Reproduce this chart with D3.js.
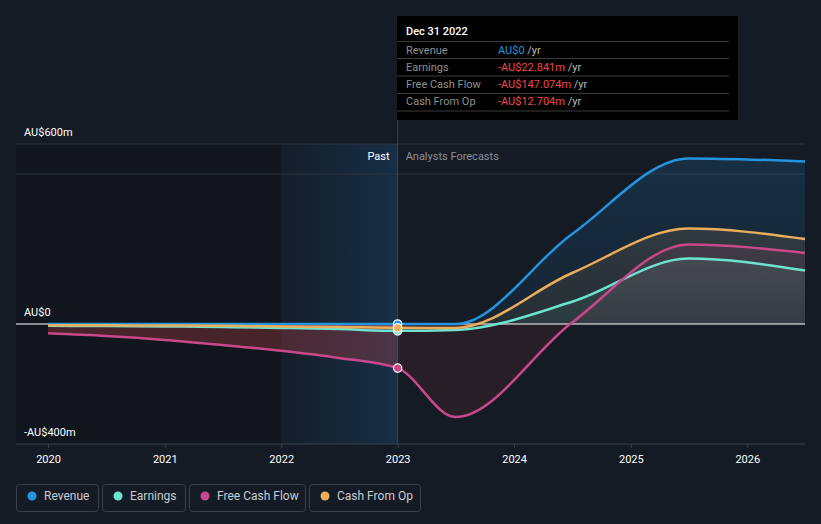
<!DOCTYPE html>
<html><head><meta charset="utf-8">
<script src="https://cdn.jsdelivr.net/npm/d3@7"></script>
<style>html,body{margin:0;padding:0;background:#151b25;} svg{display:block;font-family:Roboto,"Noto Sans",sans-serif;}</style>
</head><body><svg id="c" width="821" height="524"></svg>
<script>
// ---- data (AU$ millions) ----
const dates = ["2020-01-01","2020-07-01","2021-01-01","2021-07-01","2022-01-01","2022-07-01","2023-01-01","2023-07-01","2024-07-01","2025-07-01","2026-07-01"];
const revenue      = [0, 0, 0, 0, 0, 0, 0, 0, 300, 552, 542];
const earnings     = [-6, -7, -8, -10, -13, -17, -22.841, -20, 74, 218, 178];
const freeCashFlow = [-31, -40, -53, -70, -89, -113, -147.074, -310, 5, 265, 237];
const cashFromOp   = [-4, -4.5, -5, -6, -8, -10, -12.704, -13, 170, 318, 283];
const seriesNames  = ["Revenue", "Earnings", "Free Cash Flow", "Cash From Op"];
const seriesColors = ["#2394df", "#6ce3cf", "#c9488a", "#e9ad5c"];
const yearTicks    = [2020, 2021, 2022, 2023, 2024, 2025, 2026];
const yTickValues  = [600, 0, -400];
const yTickLabels  = ["AU$600m", "AU$0", "-AU$400m"];
const tooltipDate  = "Dec 31 2022";
const tooltipValues = ["AU$0", "-AU$22.841m", "-AU$147.074m", "-AU$12.704m"];
const pastStart = "2022-01-01", nowDate = "2023-01-01";

const svg = d3.select("#c");
const parse = d3.timeParse("%Y-%m-%d");
const X0 = 16, X1 = 805;
const x = d3.scaleTime().domain([parse("2020-01-01"), parse("2026-07-01")]).range([48, 805]);
const y = d3.scaleLinear().domain([-400, 600]).range([444, 144]);
const allSeries = [revenue, earnings, freeCashFlow, cashFromOp].map((vals, i) => ({
  name: seriesNames[i], color: seriesColors[i],
  pts: vals.map((v, j) => ({d: parse(dates[j]), v}))
}));

const defs = svg.append("defs");
const xNow = x(parse(nowDate)), xPast = x(parse(pastStart));
const y0 = y(0);

// background regions
svg.append("rect").attr("x", X0).attr("y", y(600)).attr("width", xPast - X0).attr("height", y(-400) - y(600)).attr("fill", "rgba(0,0,0,0.18)");
const bg = defs.append("linearGradient").attr("id", "pastg").attr("x1", 0).attr("x2", 1).attr("y1", 0).attr("y2", 0);
bg.append("stop").attr("offset", 0).attr("stop-color", "#2196f3").attr("stop-opacity", 0.02);
bg.append("stop").attr("offset", 1).attr("stop-color", "#2196f3").attr("stop-opacity", 0.16);
svg.append("rect").attr("x", xPast).attr("y", y(600)).attr("width", xNow - xPast).attr("height", y(-400) - y(600)).attr("fill", "url(#pastg)");

// gridlines
[600, 500].forEach(v => svg.append("line").attr("x1", X0).attr("x2", X1).attr("y1", y(v)).attr("y2", y(v)).attr("stroke", "#2e343e").attr("stroke-width", 1));

// clips
defs.append("clipPath").attr("id", "pos").append("rect").attr("x", 0).attr("y", 0).attr("width", 821).attr("height", y0);
defs.append("clipPath").attr("id", "negPast").append("rect").attr("x", 0).attr("y", y0).attr("width", xNow).attr("height", 300);
defs.append("clipPath").attr("id", "negFut").append("rect").attr("x", xNow).attr("y", y0).attr("width", 821).attr("height", 300);

const area = d3.area().x(d => x(d.d)).y0(y0).y1(d => y(d.v)).curve(d3.curveMonotoneX);
const line = d3.line().x(d => x(d.d)).y(d => y(d.v)).curve(d3.curveMonotoneX);

allSeries.forEach((s, i) => {
  const g = defs.append("linearGradient").attr("id", "ag" + i).attr("gradientUnits", "userSpaceOnUse")
    .attr("x1", 0).attr("x2", 0).attr("y1", y(600)).attr("y2", y0);
  g.append("stop").attr("offset", 0).attr("stop-color", s.color).attr("stop-opacity", 0.17);
  g.append("stop").attr("offset", 1).attr("stop-color", s.color).attr("stop-opacity", 0.07);
  svg.append("path").attr("d", area(s.pts)).attr("fill", `url(#ag${i})`).attr("clip-path", "url(#pos)");
  svg.append("path").attr("d", area(s.pts)).attr("fill", "#e5484d").attr("fill-opacity", 0.26).attr("clip-path", "url(#negPast)");
  svg.append("path").attr("d", area(s.pts)).attr("fill", "#e5484d").attr("fill-opacity", 0.09).attr("clip-path", "url(#negFut)");
});

// zero line
svg.append("line").attr("x1", X0).attr("x2", X1).attr("y1", y0).attr("y2", y0).attr("stroke", "#ffffff").attr("stroke-width", 1.2);

// now line
svg.append("line").attr("x1", xNow).attr("x2", xNow).attr("y1", 16).attr("y2", y(-400)).attr("stroke", "#2196f3").attr("stroke-opacity", 0.35);

// series lines
allSeries.forEach(s => {
  svg.append("path").attr("d", line(s.pts)).attr("fill", "none").attr("stroke", s.color).attr("stroke-width", 2.5);
});

// dots at now
allSeries.forEach(s => {
  const p = s.pts.find(q => +q.d === +parse(nowDate));
  svg.append("circle").attr("cx", x(p.d)).attr("cy", y(p.v)).attr("r", 4.2).attr("fill", s.color).attr("stroke", "#ffffff").attr("stroke-width", 1.2);
});

// x axis
svg.append("line").attr("x1", X0).attr("x2", X1).attr("y1", y(-400)).attr("y2", y(-400)).attr("stroke", "#3a404a");
const xa = svg.append("g").attr("transform", `translate(0,${y(-400)})`)
  .call(d3.axisBottom(x).tickValues(yearTicks.map(yr => new Date(yr, 0, 1))).tickFormat(d3.timeFormat("%Y")).tickSize(4).tickPadding(7));
xa.select(".domain").remove();
xa.selectAll(".tick line").attr("stroke", "#3a404a");
xa.selectAll(".tick text").attr("fill", "#ffffff").attr("font-size", 11).attr("font-family", "Roboto");

// y labels
yTickValues.forEach((v, i) => {
  svg.append("text").attr("x", 24).attr("y", y(v) - 8).text(yTickLabels[i]).attr("fill", "#ffffff").attr("font-size", 11);
});

// Past / forecast labels
svg.append("text").attr("x", xNow - 8).attr("y", 160).attr("text-anchor", "end").text("Past").attr("fill", "#ffffff").attr("font-size", 11);
svg.append("text").attr("x", xNow + 8).attr("y", 160).text("Analysts Forecasts").attr("fill", "#8b9099").attr("font-size", 11);

// tooltip
const tt = svg.append("g");
tt.append("rect").attr("x", 397).attr("y", 16).attr("width", 341).attr("height", 104).attr("fill", "#000000");
tt.append("text").attr("x", 406).attr("y", 35).text(tooltipDate).attr("fill", "#ffffff").attr("font-size", 11).attr("font-weight", 500);
[41.5, 58.5, 76, 93.5, 111].forEach(yy => tt.append("line").attr("x1", 397).attr("x2", 729).attr("y1", yy).attr("y2", yy).attr("stroke", "#3a3a3a"));
seriesNames.forEach((n, i) => {
  const yy = 53.5 + i * 17.3;
  tt.append("text").attr("x", 406).attr("y", yy).text(n).attr("fill", "#8f8f8f").attr("font-size", 11);
  const t = tt.append("text").attr("x", 498).attr("y", yy).attr("font-size", 11);
  t.append("tspan").text(tooltipValues[i]).attr("fill", tooltipValues[i].startsWith("-") ? "#f04848" : "#2394df");
  t.append("tspan").text(" /yr").attr("fill", "#b8b8b8");
});

// legend
const legX = [16, 102, 189, 309], legW = [82, 83, 116, 111];
seriesNames.forEach((n, i) => {
  const g = svg.append("g");
  g.append("rect").attr("x", legX[i] + 0.5).attr("y", 484.5).attr("width", legW[i]).attr("height", 27).attr("rx", 3).attr("fill", "none").attr("stroke", "#3b414c");
  g.append("circle").attr("cx", legX[i] + 16).attr("cy", 496).attr("r", 4.5).attr("fill", seriesColors[i]);
  g.append("text").attr("x", legX[i] + 28).attr("y", 500).text(n).attr("fill", "#c9ccd1").attr("font-size", 12);
});
</script></body></html>
